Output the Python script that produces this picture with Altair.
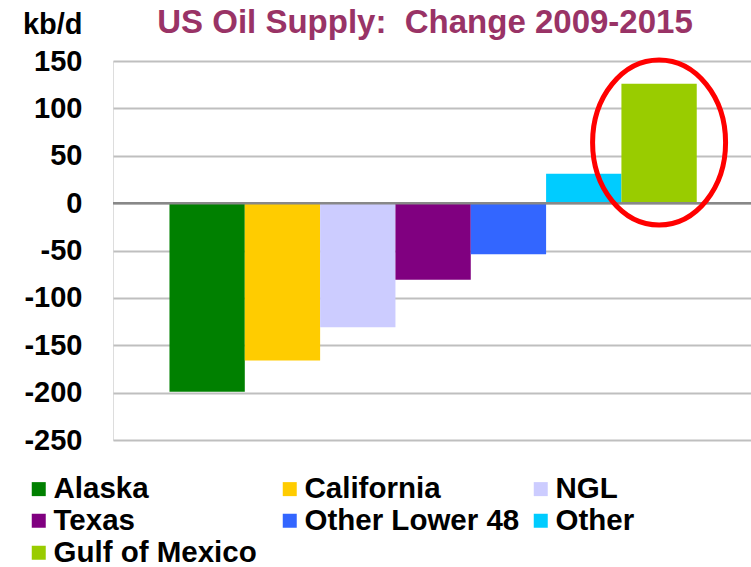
import altair as alt
import pandas as pd

# ---- data ----
regions = ["Alaska", "California", "NGL", "Texas", "Other Lower 48", "Other", "Gulf of Mexico"]
changes = [-199, -166, -131, -81, -54, 31, 126]
colors = ["#008000", "#FFCC00", "#CCCCFF", "#800080", "#3366FF", "#00CCFF", "#99CC00"]
y_ticks = [-250, -200, -150, -100, -50, 0, 50, 100, 150]
highlight_region = ["Gulf of Mexico"]
highlight_center = [64]
zero_level = [0]

df = pd.DataFrame({"Region": regions, "Change": changes})
hl = pd.DataFrame({"Region": highlight_region, "Center": highlight_center})
zdf = pd.DataFrame({"zero": zero_level})

FONT = "Liberation Sans"

x_scale = alt.Scale(domain=regions, paddingInner=0, paddingOuter=0.735, align=0.51)
y_scale = alt.Scale(domain=[-250, 150], nice=False, zero=False)

bars = alt.Chart(df).mark_bar(strokeWidth=0).encode(
    x=alt.X("Region:N", scale=x_scale, axis=None, sort=regions),
    y=alt.Y(
        "Change:Q",
        scale=y_scale,
        axis=alt.Axis(
            values=y_ticks,
            labelExpr="replace(datum.label, '\u2212', '-')",
            title="kb/d",
            titleAngle=0,
            titleX=-31,
            titleY=-28,
            titleAlign="right",
            titleBaseline="alphabetic",
            titleFont=FONT,
            titleFontSize=29,
            titleFontWeight="bold",
            titleColor="black",
            labelFont=FONT,
            labelFontSize=29,
            labelFontWeight="bold",
            labelColor="black",
            labelPadding=31,
            ticks=False,
            domain=False,
            grid=True,
            gridColor="#BFBFBF",
            gridWidth=2,
            labelFlush=False,
            labelOverlap=False,
        ),
    ),
    color=alt.Color(
        "Region:N",
        scale=alt.Scale(domain=regions, range=colors),
        sort=regions,
        legend=alt.Legend(
            orient="none",
            direction="horizontal",
            legendX=-89,
            legendY=413,
            columns=3,
            gridAlign="all",
            columnPadding=6,
            rowPadding=1,
            padding=0,
            title=None,
            symbolType="square",
            symbolSize=196,
            symbolStrokeWidth=0,
            symbolOpacity=1,
            labelFont=FONT,
            labelFontSize=29.5,
            labelFontWeight="bold",
            labelColor="black",
            labelOffset=0,
            labelLimit=0,
        ),
    ),
)

zero_line = alt.Chart(zdf).mark_rule(color="#888888", strokeWidth=2.5).encode(
    y=alt.Y("zero:Q", scale=y_scale)
)

ellipse_path = (
    "M 0.806 0 C 0.806 0.5523 0.4451 1 0 1 C -0.4451 1 -0.806 0.5523 -0.806 0 "
    "C -0.806 -0.5523 -0.4451 -1 0 -1 C 0.4451 -1 0.806 -0.5523 0.806 0 Z"
)
ellipse = alt.Chart(hl).mark_point(
    shape=ellipse_path,
    filled=False,
    stroke="#FF0000",
    strokeWidth=5,
    size=27225,
    opacity=1,
).encode(
    x=alt.X("Region:N", scale=x_scale, sort=regions),
    y=alt.Y("Center:Q", scale=y_scale),
)

chart = (
    alt.layer(bars, zero_line, ellipse)
    .properties(
        width=638,
        height=379,
        autosize=alt.AutoSizeParams(type="none"),
        padding={"left": 113, "top": 61, "right": 0, "bottom": 127},
        title=alt.TitleParams(
            text="US Oil Supply:\u00a0 Change 2009-2015",
            font=FONT,
            fontSize=33,
            fontWeight="bold",
            color="#993366",
            anchor="middle",
            frame="group",
            baseline="alphabetic",
            offset=-56,
            dx=-7,
        ),
    )
    .configure_view(stroke=None)
    .configure(background="white")
)

chart.save("out.html", embed_options={"renderer": "svg", "actions": False})
